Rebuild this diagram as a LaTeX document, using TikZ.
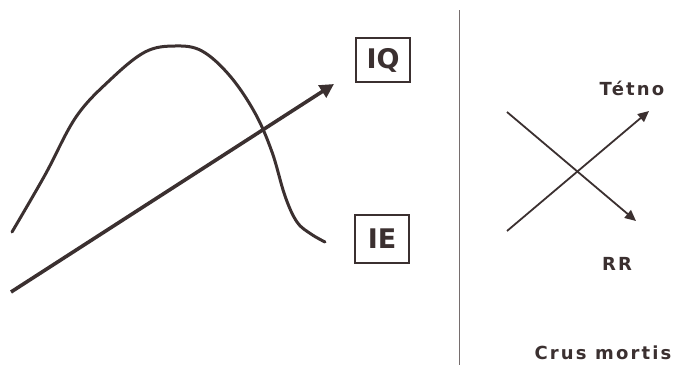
\documentclass[tikz,border=0pt]{standalone}
\usepackage{fontspec}
\setmainfont{DejaVu Sans}
\usetikzlibrary{arrows.meta}
\definecolor{ink}{HTML}{3B3030}
\tikzset{
  lbl/.style={text=ink, inner sep=0pt, font=\bfseries\fontsize{18}{18}\selectfont\addfontfeature{LetterSpace=12}},
  tagbox/.style={draw=ink, line width=2.5pt, minimum width=54pt, minimum height=44pt, text=ink, inner sep=0pt, font=\bfseries\fontsize{27}{27}\selectfont},
  trend/.style={ink, line width=3.6pt, -{Triangle[length=14pt,width=14pt]}},
  bell/.style={ink, line width=3pt, line cap=round},
  cross/.style={ink, line width=1.8pt, -{Triangle[length=11pt,width=10pt]}},
}
\begin{document}
\begin{tikzpicture}[x=1pt,y=-1pt]
\useasboundingbox (0,0) rectangle (678,367);
% label boxes
\node[tagbox] (iq) at (383,60) {IQ};
\node[tagbox, minimum height=48pt] (ie) at (382,239) {IE};
% bell-shaped curve
\draw[bell] plot[smooth, tension=0.6] coordinates {(12,232) (45,175) (76,117) (110,80) (145,52) (175,46) (202,51) (230,76) (255,113) (272,152) (285,196) (297,222) (311,234) (325,242)};
% rising trend arrow
\coordinate (t0) at (11,292);
\coordinate (t1) at (334,84);
\draw[trend] (t0) -- (t1);
% divider
\coordinate (d0) at (459,10);
\coordinate (d1) at (459,365);
\draw[ink!70, line width=0.8pt] (d0) -- (d1);
% cross
\coordinate (a0) at (507,112);
\coordinate (b0) at (507,231);
\node[lbl] (tetno) at (632,88) {Tétno};
\node[lbl] (rr) at (617,264) {RR};
\node[lbl] (crus) at (603,353) {Crus mortis};
\coordinate (a1) at (636,221);
\coordinate (b1) at (649,111);
\draw[cross] (a0) -- (a1);
\draw[cross] (b0) -- (b1);
\end{tikzpicture}
\end{document}
